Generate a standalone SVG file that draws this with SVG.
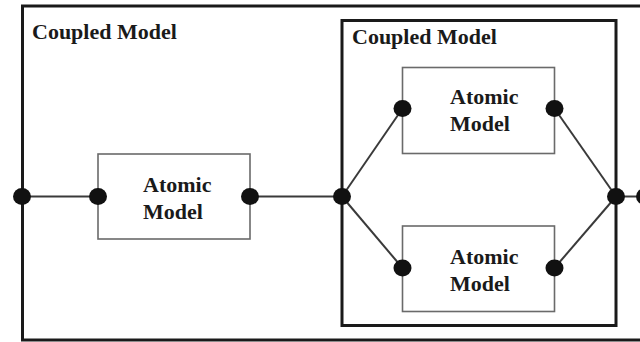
<svg xmlns="http://www.w3.org/2000/svg" width="640" height="342" viewBox="0 0 640 342">
<style>
.coupled{fill:none;stroke:#1a1a1a;stroke-width:3}
.atomic{fill:#fff;stroke:#6a6a6a;stroke-width:1.6}
.lbl{font-family:"Liberation Serif","Times New Roman",serif;font-weight:bold;font-size:22px;fill:#1a1a1a}
.conn line{stroke:#3a3a3a;stroke-width:2}
.port{fill:#111}
</style>
<rect width="640" height="342" fill="#fff"/>
<g id="outer-coupled">
<rect class="coupled" x="22.5" y="6" width="640" height="334"/>
<text class="lbl" x="32" y="39">Coupled Model</text>
</g>
<g id="inner-coupled">
<rect class="coupled" x="342" y="20.5" width="274" height="305"/>
<text class="lbl" x="352" y="44">Coupled Model</text>
</g>
<g class="conn" id="connectors">
<line x1="22" y1="196.5" x2="98" y2="196.5"/>
<line x1="250" y1="196.5" x2="342" y2="196.5"/>
<line x1="342" y1="196.5" x2="402.5" y2="108.5"/>
<line x1="342" y1="196.5" x2="402.5" y2="268"/>
<line x1="554.5" y1="108.5" x2="616" y2="196.5"/>
<line x1="554.5" y1="268" x2="616" y2="196.5"/>
<line x1="616" y1="196.5" x2="640" y2="196.5"/>
</g>
<g id="atomic-left">
<rect class="atomic" x="98" y="154" width="152" height="85"/>
<text class="lbl" x="143" y="191.5">Atomic</text>
<text class="lbl" x="143" y="218.5">Model</text>
</g>
<g id="atomic-top">
<rect class="atomic" x="402.5" y="67.5" width="152" height="86"/>
<text class="lbl" x="450" y="103.5">Atomic</text>
<text class="lbl" x="450" y="130.5">Model</text>
</g>
<g id="atomic-bottom">
<rect class="atomic" x="402.5" y="226" width="152" height="85.5"/>
<text class="lbl" x="450" y="263.5">Atomic</text>
<text class="lbl" x="450" y="290.5">Model</text>
</g>
<g id="ports">
<ellipse class="port" cx="22" cy="196.5" rx="9" ry="8.5"/>
<ellipse class="port" cx="98" cy="196.5" rx="9" ry="8.5"/>
<ellipse class="port" cx="250" cy="196.5" rx="9" ry="8.5"/>
<ellipse class="port" cx="342" cy="196.5" rx="9" ry="8.5"/>
<ellipse class="port" cx="402.5" cy="108.5" rx="9" ry="8.5"/>
<ellipse class="port" cx="554.5" cy="108.5" rx="9" ry="8.5"/>
<ellipse class="port" cx="402.5" cy="268" rx="9" ry="8.5"/>
<ellipse class="port" cx="554.5" cy="268" rx="9" ry="8.5"/>
<ellipse class="port" cx="616" cy="196.5" rx="9" ry="8.5"/>
<ellipse class="port" cx="645" cy="196.5" rx="9" ry="8.5"/>
</g>
</svg>
